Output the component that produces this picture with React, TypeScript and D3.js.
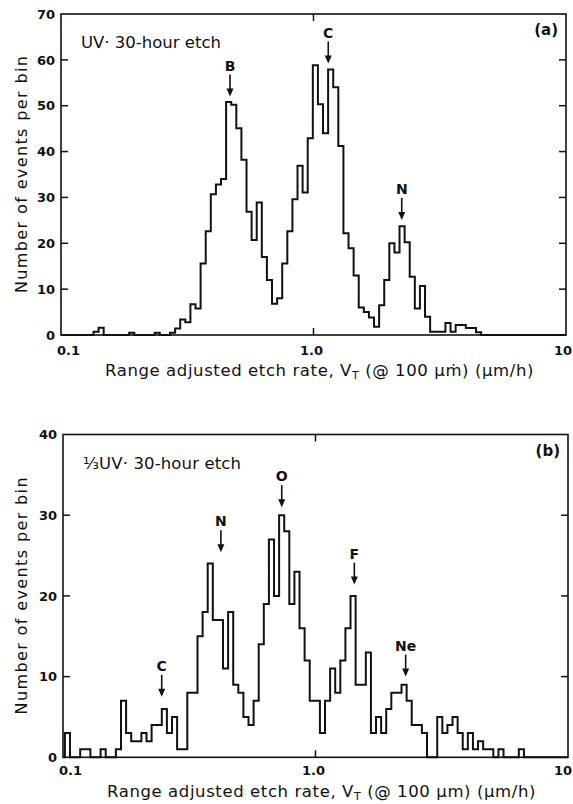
import React from 'react';
import * as d3 from 'd3';

// Histogram binning (log10 of etch rate)
const BIN_START_LOG = -0.9925;
const BIN_WIDTH_LOG = 0.0202;

// Panel (a): UV, 30-hour etch — counts per bin
const countsA = [
  0, 0, 0, 0, 0, 0, 0.7, 1.6, 0, 0,
  0, 0, 0, 0.5, 0, 0, 0, 0, 0.5, 0,
  0, 0.5, 1.4, 3.4, 2.8, 6.7, 5.8, 15.6, 22.6, 30.7,
  32.8, 34, 50.8, 50.2, 45.1, 38.2, 26.9, 20.7, 28.9, 17,
  12, 6.8, 8, 15.6, 22.6, 29.6, 36.9, 31.1, 42.9, 58.8,
  50.3, 44, 57.9, 54, 41.2, 22.2, 18.9, 13, 6, 5,
  3.8, 1.8, 6.5, 12, 20, 18, 23.7, 20.2, 12.7, 5.8,
  10.7, 4, 0.7, 0.7, 0.7, 2.6, 0.7, 2.2, 2.2, 1.5,
  1.5, 0.6, 0,
];

// Panel (b): 1/3 UV, 30-hour etch — counts per bin
const countsB = [
  3, 0, 0, 1, 1, 0, 0, 1, 0, 0,
  1, 7, 3, 2, 2, 3, 2, 4, 4, 6,
  3, 5, 1, 1, 8, 8, 15, 18, 24, 17,
  17, 11, 18, 9, 8, 5, 4, 7, 14, 19,
  27, 20, 30, 28, 19, 23, 16, 12, 7, 7,
  3, 7, 11, 8, 12, 16, 20, 9, 9, 13,
  3, 5, 3, 6, 8, 8, 9, 7, 4, 4,
  3, 0, 0, 5, 3, 4, 5, 3, 1, 3,
  1, 2, 1, 1, 0, 1, 0, 0, 0, 1,
  0,
];

const yTicksA = [0, 10, 20, 30, 40, 50, 60, 70];
const yTicksB = [0, 10, 20, 30, 40];
const xTickValues = [0.1, 1, 10];
const xTickLabels = ['0.1', '1.0', '10'];
const xMinorTicks = [1];

const peaksA = [
  { label: 'B', rate: 0.467, count: 52 },
  { label: 'C', rate: 1.144, count: 59.2 },
  { label: 'N', rate: 2.236, count: 25.1 },
];
const peaksB = [
  { label: 'C', rate: 0.246, count: 7.5 },
  { label: 'N', rate: 0.422, count: 25.4 },
  { label: 'O', rate: 0.735, count: 31 },
  { label: 'F', rate: 1.425, count: 21.4 },
  { label: 'Ne', rate: 2.276, count: 10 },
];

const FONT = '"DejaVu Sans", "Open Sans", sans-serif';

type Peak = { label: string; rate: number; count: number };

function Panel(props: {
  left: number; right: number; top: number; bottom: number;
  yMax: number; counts: number[]; yTicks: number[]; peaks: Peak[];
  title: string; titleLen: number; tag: string; unitM: string; xTitleY: number; tickLabelY: number;
}) {
  const { left, right, top, bottom, yMax, counts, yTicks, peaks, title, titleLen, tag, unitM, xTitleY, tickLabelY } = props;
  const x = d3.scaleLog().domain([0.1, 10]).range([left, right]);
  const y = d3.scaleLinear().domain([0, yMax]).range([bottom, top]);

  const edge = (i: number) => Math.pow(10, BIN_START_LOG + i * BIN_WIDTH_LOG);
  const pts: [number, number][] = [];
  pts.push([x(0.1), y(0)]);
  pts.push([x(edge(0)), y(0)]);
  counts.forEach((c, i) => {
    pts.push([x(edge(i)), y(c)]);
    pts.push([x(edge(i + 1)), y(c)]);
  });
  pts.push([x(edge(counts.length)), y(0)]);
  pts.push([x(10), y(0)]);
  const path = d3.line()(pts) || '';

  const tickLen = 7;
  const midY = (top + bottom) / 2;

  return (
    <g>
      <path d={path} fill="none" stroke="#111" strokeWidth={2} strokeLinejoin="miter" />
      <rect x={left} y={top} width={right - left} height={bottom - top} fill="none" stroke="#111" strokeWidth={1.6} />
      {yTicks.filter((t) => t > 0 && t < yMax).map((t) => (
        <g key={'yt' + t}>
          <line x1={left} x2={left + tickLen} y1={y(t)} y2={y(t)} stroke="#111" strokeWidth={1.5} />
          <line x1={right} x2={right - tickLen} y1={y(t)} y2={y(t)} stroke="#111" strokeWidth={1.5} />
        </g>
      ))}
      {xMinorTicks.map((t) => (
        <g key={'xt' + t}>
          <line x1={x(t)} x2={x(t)} y1={bottom} y2={bottom - tickLen} stroke="#111" strokeWidth={1.5} />
          <line x1={x(t)} x2={x(t)} y1={top} y2={top + tickLen} stroke="#111" strokeWidth={1.5} />
        </g>
      ))}
      {yTicks.map((t) => (
        <text key={'yl' + t} x={left - 6} y={y(t)} dy="0.36em" textAnchor="end" fontFamily={FONT} fontWeight="bold" fontSize={13} fill="#111">
          {t}
        </text>
      ))}
      {xTickValues.map((t, i) => (
        <text key={'xl' + t}
          x={i === 0 ? x(t) - 4 : i === 2 ? 572 : x(t) - 2}
          y={tickLabelY}
          textAnchor={i === 0 ? 'start' : i === 2 ? 'end' : 'middle'}
          fontFamily={FONT} fontWeight="bold" fontSize={13} fill="#111">
          {xTickLabels[i]}
        </text>
      ))}
      <text x={21} y={midY} transform={`rotate(-90, 21, ${midY})`} dy="0.35em" textAnchor="middle" fontFamily={FONT} fontSize={16} fill="#111" textLength={237}>
        Number of events per bin
      </text>
      <text x={(left + right) / 2 + 6} y={xTitleY} textAnchor="middle" fontFamily={FONT} fontSize={16.5} letterSpacing={0.6} fill="#111">
        Range adjusted etch rate, V<tspan fontSize={11} dy={3}>T</tspan><tspan dy={-3}> (@ 100 μ{unitM}) (μm/h)</tspan>
      </text>
      <text x={left + 20} y={top + 34} fontFamily={FONT} fontSize={16.5} fill="#111" textLength={titleLen}>
        {title}
      </text>
      <text x={right - 8} y={top + 21} textAnchor="end" fontFamily={FONT} fontWeight="bold" fontSize={15} fill="#111">
        {tag}
      </text>
      {peaks.map((p) => {
        const px = x(p.rate);
        const tip = y(p.count);
        const len = 22;
        return (
          <g key={p.label + p.rate}>
            <line x1={px} x2={px} y1={tip - len} y2={tip - 6} stroke="#111" strokeWidth={1.6} />
            <path d={`M${px},${tip} L${px - 3.5},${tip - 8} L${px + 3.5},${tip - 8} Z`} fill="#111" />
            <text x={px} y={tip - len - 4} textAnchor="middle" fontFamily={FONT} fontWeight="bold" fontSize={14} fill="#111">
              {p.label}
            </text>
          </g>
        );
      })}
    </g>
  );
}

export default function App() {
  return (
    <svg width={573} height={804} style={{ position: 'absolute', left: 0, top: 0, background: '#fff' }}>
      <rect x={0} y={0} width={573} height={804} fill="#fff" />
      <Panel left={61} right={566} top={14} bottom={335} yMax={70} counts={countsA} yTicks={yTicksA} peaks={peaksA}
        title="UV· 30-hour etch" titleLen={140} tag="(a)" unitM="ṁ" xTitleY={376} tickLabelY={355} />
      <Panel left={63} right={568} top={434.5} bottom={757.3} yMax={40} counts={countsB} yTicks={yTicksB} peaks={peaksB}
        title="⅓UV· 30-hour etch" titleLen={158} tag="(b)" unitM="m" xTitleY={797} tickLabelY={775} />
    </svg>
  );
}
